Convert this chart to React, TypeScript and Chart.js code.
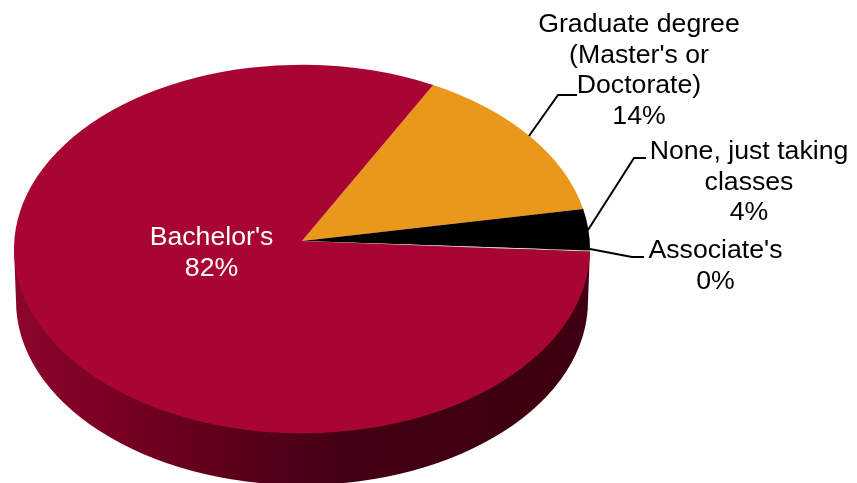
import React, { useEffect, useRef } from "react";
import { Chart, registerables } from "chart.js";

Chart.register(...registerables);

const categories = ["Graduate degree (Master's or Doctorate)", "None, just taking classes", "Associate's", "Bachelor's"];
const shareValues = [14, 3.6, 0.1, 82.3];
const sliceColors = ["#EA981C", "#000000", "#D0CDCE", "#A80532"];
const labelLines = [
  ["Graduate degree", "(Master's or", "Doctorate)"],
  ["None, just taking", "classes"],
  ["Associate's"],
  ["Bachelor's"],
];

const FONT = '26.67px "Liberation Sans", Arial, sans-serif';
const labelAnchors = [
  { x: 639, y: 24.5, color: "#000" },
  { x: 749, y: 151.5, color: "#000" },
  { x: 715.5, y: 250.5, color: "#000" },
  { x: 211.5, y: 237.5, color: "#fff" },
];
const leaders = [
  [[529, 136], [558, 95], [577, 95]],
  [[588, 230], [634, 158], [646, 158]],
  [[590, 249], [632, 257], [644, 257]],
];
const sideStops: [number, string][] = [
  [0, "#8C062C"],
  [0.15, "#7C0025"],
  [0.32, "#64001C"],
  [0.5, "#4C0016"],
  [0.58, "#420012"],
  [1, "#3E0010"],
];

const pie3d = {
  id: "pie3d",
  beforeDatasetDraw(chart: any, args: any) {
    const ctx = chart.ctx;
    const arcs = args.meta.data;
    const cx = arcs[0].x;
    const apexY = arcs[0].y;
    const rx = arcs[0].outerRadius;
    const ry = rx * 0.64;
    const cy = apexY + 8;
    const botRx = rx - 2;
    const botRy = 184;
    const botCy = 301;
    ctx.save();
    const g = ctx.createLinearGradient(cx - rx, 0, cx + rx, 0);
    sideStops.forEach(([o, c]) => g.addColorStop(o, c));
    ctx.fillStyle = g;
    ctx.beginPath();
    ctx.moveTo(cx + rx, cy);
    ctx.ellipse(cx, botCy, botRx, botRy, 0, 0, Math.PI);
    ctx.lineTo(cx - rx, cy);
    ctx.closePath();
    ctx.fill();
    arcs.forEach((a: any) => {
      ctx.fillStyle = a.options.backgroundColor;
      ctx.beginPath();
      ctx.moveTo(cx, apexY);
      ctx.ellipse(cx, cy, rx, ry, 0, a.startAngle, a.endAngle);
      ctx.closePath();
      ctx.fill();
    });
    ctx.restore();
    return false;
  },
  afterDatasetsDraw(chart: any) {
    const ctx = chart.ctx;
    ctx.save();
    ctx.strokeStyle = "#000";
    ctx.lineWidth = 2;
    leaders.forEach((pts) => {
      ctx.beginPath();
      pts.forEach(([x, y], i) => (i ? ctx.lineTo(x, y) : ctx.moveTo(x, y)));
      ctx.stroke();
    });
    ctx.font = FONT;
    ctx.textAlign = "center";
    ctx.textBaseline = "middle";
    labelLines.forEach((lines, i) => {
      const a = labelAnchors[i];
      ctx.fillStyle = a.color;
      const all = [...lines, `${Math.round(shareValues[i])}%`];
      all.forEach((t, j) => ctx.fillText(t, a.x, a.y + j * 30.7));
    });
    ctx.restore();
  },
};

export default function App() {
  const ref = useRef<HTMLCanvasElement>(null);
  useEffect(() => {
    const chart = new Chart(ref.current!, {
      type: "pie",
      data: {
        labels: categories,
        datasets: [{ data: shareValues, backgroundColor: sliceColors, borderWidth: 0, radius: 288 } as any],
      },
      options: {
        responsive: false,
        animation: false,
        rotation: 27.1,
        layout: { padding: { left: 0, top: 0, right: 253, bottom: 1 } },
        plugins: { legend: { display: false }, tooltip: { enabled: false } },
      },
      plugins: [pie3d],
    } as any);
    return () => chart.destroy();
  }, []);
  return (
    <div style={{ position: "absolute", left: 0, top: 0, width: 857, height: 483, background: "#fff" }}>
      <canvas ref={ref} width={857} height={483} style={{ display: "block" }} />
    </div>
  );
}
